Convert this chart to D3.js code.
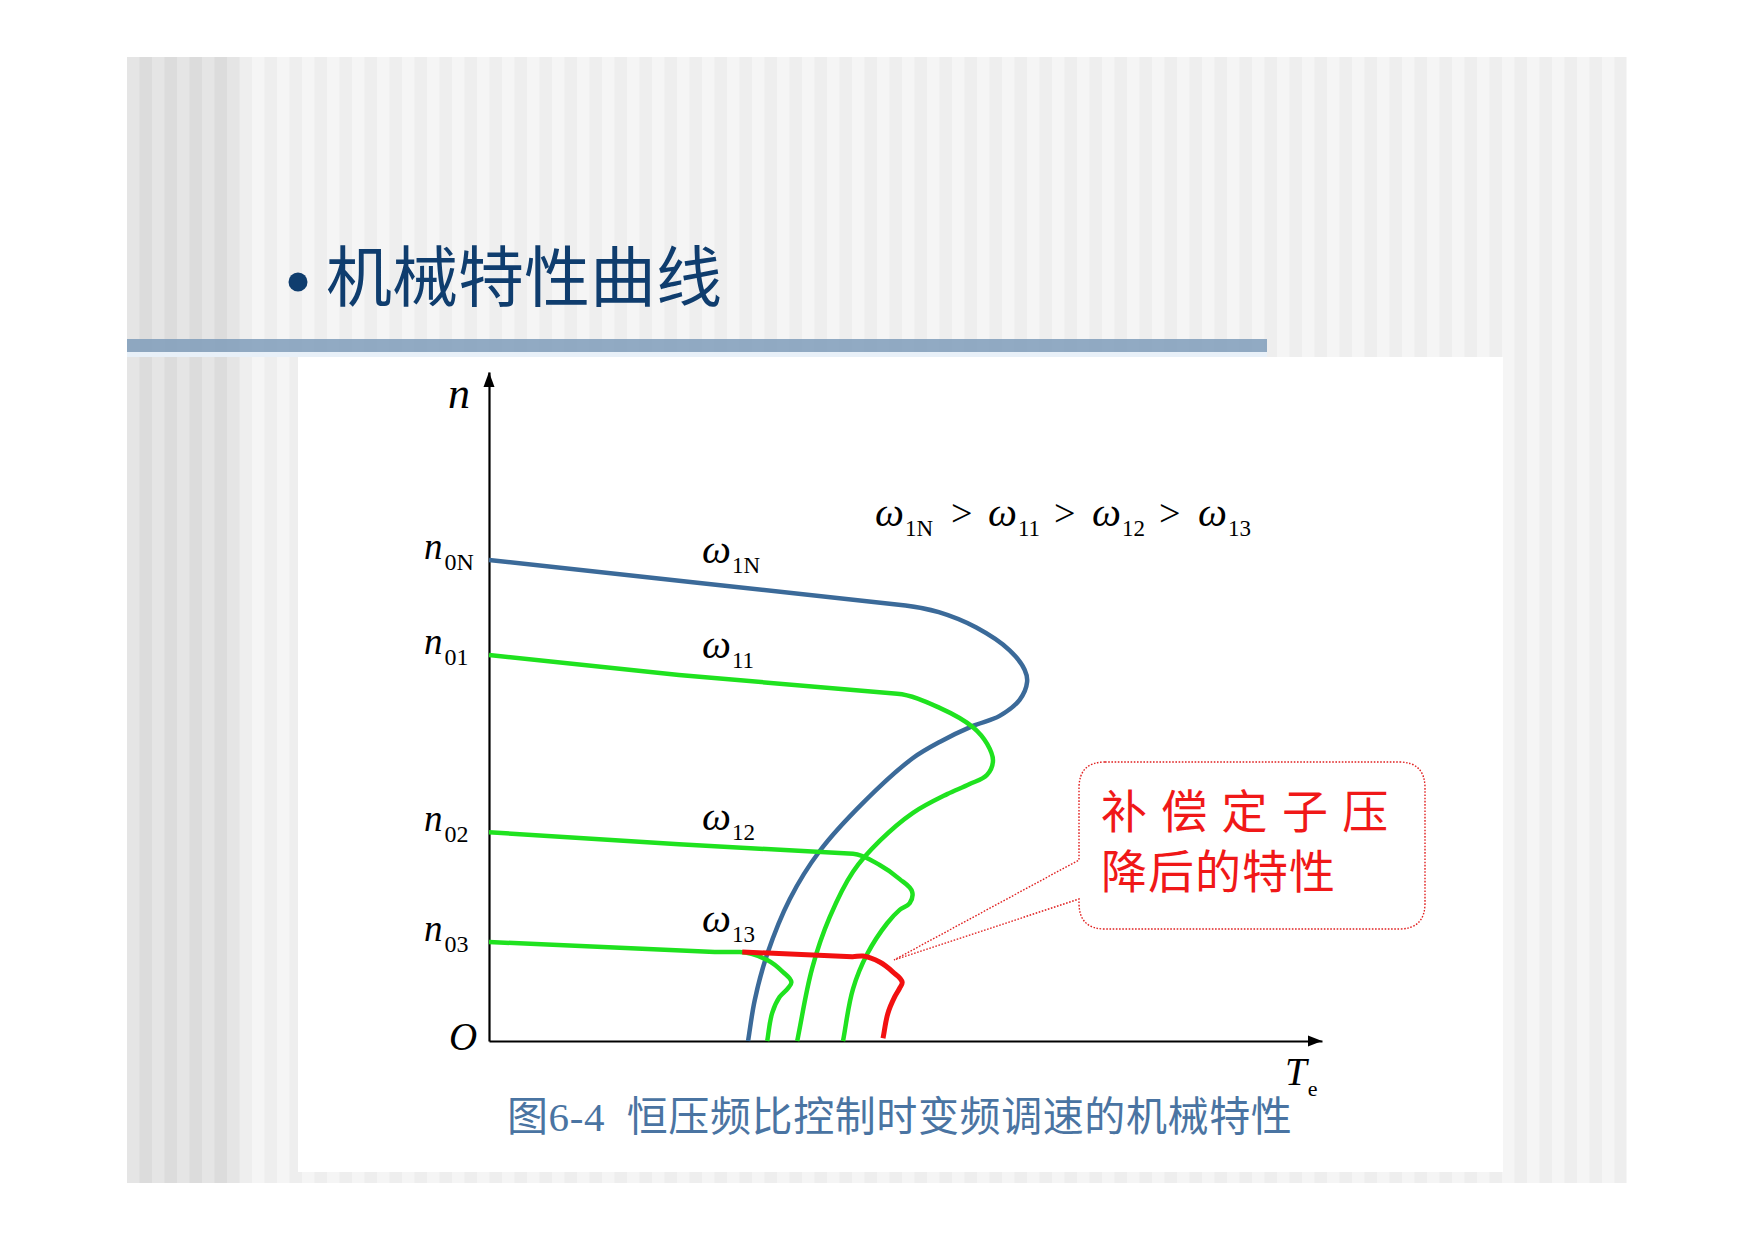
<!DOCTYPE html>
<html><head><meta charset="utf-8">
<script src="https://cdn.jsdelivr.net/npm/d3@7"></script>
<style>
html,body{margin:0;padding:0;background:#fff;}
svg{display:block;}
</style></head>
<body>
<svg id="chart" width="1754" height="1241"></svg>
<script>
// ---------------- data ----------------
const title = "机械特性曲线";
const caption = "图6-4  恒压频比控制时变频调速的机械特性";
const calloutLines = ["补 偿 定 子 压", "降后的特性"];
const relationLabel = [["ω","1N"],[">",""],["ω","11"],[">",""],["ω","12"],[">",""],["ω","13"]];

// no-load speed labels (n axis)
const speedLabels = [
  {sub:"0N", n:71.9},
  {sub:"01", n:57.7},
  {sub:"02", n:31.2},
  {sub:"03", n:14.8}
];
// curve labels
const curveLabels = [
  {sub:"1N", n:71.4},
  {sub:"11", n:57.2},
  {sub:"12", n:31.5},
  {sub:"13", n:16.3}
];

// mechanical characteristics  [Te, n]  (straight part, then bent part)
const curve1N = [[0,71.9],[25,68.5],[50,65.1],[54,64.1],[58.5,61.8],[62.5,58.4],[64.3,55.5],[64.6,53.7],[63.7,51.0],[61.3,48.6],[58.1,47.1],[54.1,44.7],[50.9,42.3],[44.9,35.6],[39.7,28.4],[36.1,21.2],[33.4,13.0],[31.9,6.1],[31.1,0]];
const curve11 = [[0,57.7],[22.8,54.7],[49.0,51.9],[54.1,49.8],[58.1,46.9],[59.8,44.4],[60.5,41.9],[59.8,39.8],[57.7,38.4],[55.0,36.9],[50.9,34.1],[46.9,29.9],[43.7,25.3],[40.9,18.5],[38.8,10.9],[37.0,0]];
const curve12 = [[0,31.2],[22.8,29.4],[43.7,28.0],[46.9,26.3],[49.3,24.2],[50.8,22.3],[50.5,20.6],[49.3,19.6],[47.8,17.6],[45.4,13.0],[43.7,7.8],[42.5,0]];
const curve13 = [[0,14.8],[27.1,13.3],[30.1,13.3],[33.4,12.1],[35.3,10.3],[36.3,8.8],[35.9,7.9],[34.9,6.6],[34.0,4.2],[33.4,0]];
const curveComp = [[30.4,13.3],[43.6,12.6],[44.9,12.7],[46.9,11.8],[48.5,10.3],[49.6,8.8],[49.3,7.9],[48.7,6.6],[47.9,4.2],[47.3,0.4]];
// index where the straight part of each curve ends
const straightEnd = {c1N:2, c11:2, c12:2, c13:2, comp:1};

// ---------------- drawing ----------------
const svg = d3.select("#chart");
const serifIt = "'Liberation Serif','Times New Roman',serif";
const cjk = "'Noto Sans CJK SC','Noto Sans CJK JP',sans-serif";

// slide background with vertical stripes
const bg = svg.append("g");
const slide = {x0:127, x1:1626, y0:57, y1:1183};
let sx = slide.x0, k = 0;
while (sx < slide.x1) {
  const w = 12.5;
  const dark = sx < 238;
  const c = dark ? (k%2 ? "#dcdcdc" : "#e5e5e5") : (k%2 ? "#eeeeee" : "#f5f5f5");
  bg.append("rect").attr("x", sx).attr("y", slide.y0).attr("width", Math.min(w, slide.x1 - sx)+0.5)
    .attr("height", slide.y1 - slide.y0).attr("fill", c);
  sx += w; k++;
}
// title band
bg.append("rect").attr("x",127).attr("y",352).attr("width",1140).attr("height",5).attr("fill","#e8f0f8");
bg.append("rect").attr("x",127).attr("y",339).attr("width",1140).attr("height",13).attr("fill","#7f9cba").attr("opacity",0.85);
// white panel
bg.append("rect").attr("x",298).attr("y",357).attr("width",1205).attr("height",815).attr("fill","#ffffff");

// title
svg.append("circle").attr("cx",298).attr("cy",282).attr("r",9.5).attr("fill","#0f3d6e");
svg.append("text").attr("x",326).attr("y",301).attr("font-family",cjk).attr("font-size",66)
  .attr("fill","#0f3d6e").text(title);

// scales
const x = d3.scaleLinear().domain([0,100]).range([489,1322]);
const y = d3.scaleLinear().domain([0,100]).range([1041,372]);

// axes
const axX = svg.append("g").attr("transform",`translate(0,${y(0)})`)
  .call(d3.axisBottom(x).tickValues([]).tickSizeOuter(0));
axX.select(".domain").attr("stroke","#000").attr("stroke-width",2.2);
const axY = svg.append("g").attr("transform",`translate(${x(0)},0)`)
  .call(d3.axisLeft(y).tickValues([]).tickSizeOuter(0));
axY.select(".domain").attr("stroke","#000").attr("stroke-width",2.2);
// arrowheads
svg.append("path").attr("d",`M${x(100)},${y(0)} L${x(100)-14},${y(0)-5.5} L${x(100)-14},${y(0)+5.5} Z`).attr("fill","#000");
svg.append("path").attr("d",`M${x(0)},${y(100)} L${x(0)-5.5},${y(100)+15} L${x(0)+5.5},${y(100)+15} Z`).attr("fill","#000");

// axis labels
svg.append("text").attr("x",448).attr("y",408).attr("font-family",serifIt).attr("font-style","italic")
  .attr("font-size",44).text("n");
svg.append("text").attr("x",449).attr("y",1050).attr("font-family",serifIt).attr("font-style","italic")
  .attr("font-size",39).text("O");
const tl = svg.append("text").attr("x",1285).attr("y",1085).attr("font-family",serifIt).attr("font-size",39);
tl.append("tspan").attr("font-style","italic").text("T");
tl.append("tspan").attr("font-size",22).attr("dy",11).attr("dx",1).text("e");

// speed labels
speedLabels.forEach(d => {
  const t = svg.append("text").attr("x",424).attr("y",y(d.n)-1).attr("font-family",serifIt).attr("font-size",37);
  t.append("tspan").attr("font-style","italic").text("n");
  t.append("tspan").attr("font-size",24).attr("dy",11).attr("dx",2).text(d.sub);
});

// curves: straight part drawn linear, bent part smooth (tangent-continuous Bézier through the points)
function curvePath(pts, s) {
  const P = pts.map(d => [x(d[0]), y(d[1])]);
  const unit = (a,b) => { const dx=b[0]-a[0], dy=b[1]-a[1], l=Math.hypot(dx,dy)||1; return [dx/l, dy/l]; };
  const tan = i => {
    if (i === P.length-1) return unit(P[i-1], P[i]);
    if (i === s && i > 0) return unit(P[i-1], P[i]);
    if (i === 0) return unit(P[0], P[1]);
    const a = unit(P[i-1], P[i]), b = unit(P[i], P[i+1]);
    return unit([0,0], [a[0]+b[0], a[1]+b[1]]);
  };
  const p = d3.path();
  p.moveTo(P[0][0], P[0][1]);
  for (let i = 1; i <= s; i++) p.lineTo(P[i][0], P[i][1]);
  for (let i = s; i < P.length-1; i++) {
    const d = Math.hypot(P[i+1][0]-P[i][0], P[i+1][1]-P[i][1]);
    const t0 = tan(i), t1 = tan(i+1);
    p.bezierCurveTo(P[i][0]+t0[0]*d/3, P[i][1]+t0[1]*d/3,
                    P[i+1][0]-t1[0]*d/3, P[i+1][1]-t1[1]*d/3,
                    P[i+1][0], P[i+1][1]);
  }
  return p.toString();
}
const curves = [
  {data:curve1N, s:straightEnd.c1N, color:"#3b6a99", w:4.5},
  {data:curve11, s:straightEnd.c11, color:"#1fe21f", w:4.5},
  {data:curve12, s:straightEnd.c12, color:"#1fe21f", w:4.5},
  {data:curve13, s:straightEnd.c13, color:"#1fe21f", w:4.5},
  {data:curveComp, s:straightEnd.comp, color:"#f21010", w:5}
];
svg.append("g").selectAll("path").data(curves).join("path")
  .attr("d", c => curvePath(c.data, c.s))
  .attr("fill","none").attr("stroke",c=>c.color).attr("stroke-width",c=>c.w)
  .attr("stroke-linecap","butt").attr("stroke-linejoin","round");

// curve labels
curveLabels.forEach(d => {
  const t = svg.append("text").attr("x",702).attr("y",y(d.n)).attr("font-family",serifIt).attr("font-size",41);
  t.append("tspan").attr("font-style","italic").text("ω");
  t.append("tspan").attr("font-size",23).attr("dy",10).attr("dx",1).text(d.sub);
});

// relation label
const relX = [875, 951, 988, 1054, 1092, 1159, 1198];
relationLabel.forEach((d,i) => {
  const t = svg.append("text").attr("x",relX[i]).attr("y",526).attr("font-family",serifIt).attr("font-size",41);
  if (d[0] === ">") {
    t.attr("font-size",38).text(">");
  } else {
    t.append("tspan").attr("font-style","italic").text(d[0]);
    t.append("tspan").attr("font-size",23).attr("dy",10).attr("dx",1).text(d[1]);
  }
});

// callout
const L=1079, T=762, R=1425, B=929, r=26, tipX=894, tipY=960;
const cp = `M${L+r},${T} H${R-r} Q${R},${T} ${R},${T+r} V${B-r} Q${R},${B} ${R-r},${B} H${L+r} Q${L},${B} ${L},${B-r}
 V899 L${tipX},${tipY} L${L},860 V${T+r} Q${L},${T} ${L+r},${T} Z`;
svg.append("path").attr("d",cp).attr("fill","#fff").attr("stroke","#e02020").attr("stroke-width",1.4)
  .attr("stroke-dasharray","1.6,1.6");
const ct = svg.append("text").attr("font-family",cjk).attr("font-size",46).attr("fill","#f01818");
ct.append("tspan").attr("x",1101).attr("y",828).attr("letter-spacing","2").text(calloutLines[0]);
ct.append("tspan").attr("x",1101).attr("y",888).attr("letter-spacing","1").text(calloutLines[1]);

// caption
svg.append("text").attr("x",507).attr("y",1131).attr("font-family","'Liberation Serif',"+cjk).attr("font-size",41)
  .attr("letter-spacing","0.6").attr("fill","#4a74a2").style("white-space","pre").text(caption);
</script>
</body></html>
